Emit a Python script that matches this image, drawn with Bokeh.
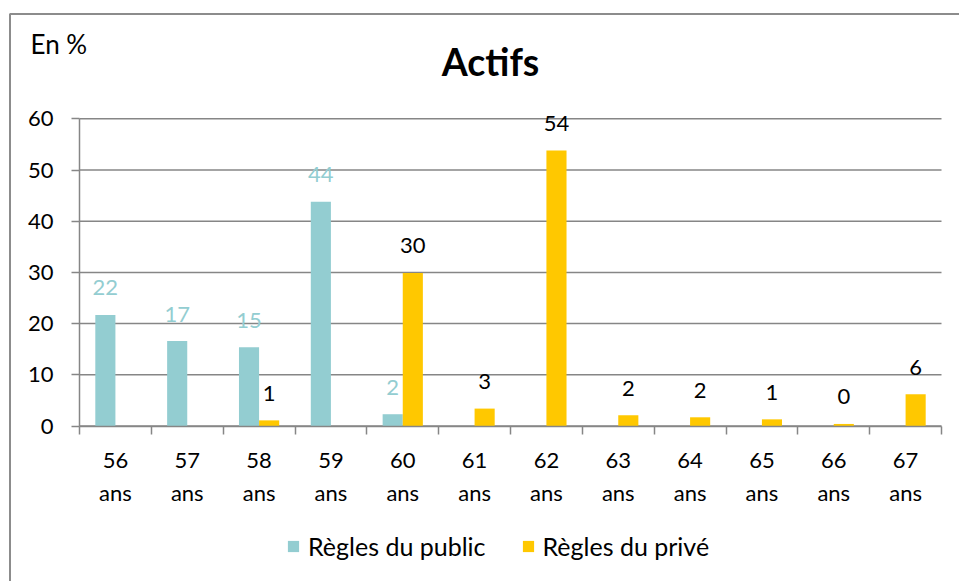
from bokeh.plotting import figure
from bokeh.models import (ColumnDataSource, FixedTicker, Label, LabelSet, Legend,
                          LegendItem, Range1d, BoxAnnotation)
from bokeh.core.properties import value
from bokeh.embed import file_html
from bokeh.resources import INLINE

# ---- data ----
ages = ["56", "57", "58", "59", "60", "61", "62", "63", "64", "65", "66", "67"]
public = [21.7, 16.6, 15.4, 43.8, 2.3, None, None, None, None, None, None, None]
prive = [None, None, 1.1, None, 29.9, 3.4, 53.8, 2.1, 1.7, 1.3, 0.4, 6.2]
y_ticks = [0, 10, 20, 30, 40, 50, 60]
series_names = ["Règles du public", "Règles du privé"]
title_text = "Actifs"
unit_text = "En %"

# ---- style / layout constants ----
TEAL = "#93CDD1"
GOLD = "#FFC800"
GRAY = "#868686"
FONT = "Lato"
BW = 0.28
W, H = 959, 581
N = len(ages)
PX_LEFT, PX_RIGHT = 79.0, 941.0      # pixel x of category band edges
PY_ZERO, PY_TOP = 425.5, 118.3        # pixel y of value 0 and 60
UX = (PX_RIGHT - PX_LEFT) / N
UY = (PY_ZERO - PY_TOP) / 60.0

def x_of(px):
    return -0.5 + (px - PX_LEFT) / UX

def y_of(py):
    return (PY_ZERO - py) / UY

def build(vals, shift):
    xs, ys, labs = [], [], []
    for i, v in enumerate(vals):
        if v is None:
            continue
        xs.append(i + shift)
        ys.append(v)
        labs.append(str(int(round(v))))
    return ColumnDataSource(dict(x=xs, y=ys, lab=labs))

src_pub = build(public, -BW / 2)
src_pri = build(prive, BW / 2)

p = figure(width=W, height=H, output_backend="svg", toolbar_location=None,
           x_range=Range1d(x_of(0), x_of(W)), y_range=Range1d(y_of(H), y_of(0)),
           min_border_left=0, min_border_right=0, min_border_top=0,
           min_border_bottom=0)
p.outline_line_color = None
p.background_fill_color = "white"
p.border_fill_color = "white"
p.xgrid.visible = False
p.ygrid.visible = False

# horizontal gridlines, spanning the category band only
p.segment(x0=[-0.5] * len(y_ticks), x1=[N - 0.5] * len(y_ticks), y0=y_ticks, y1=y_ticks,
          line_color=GRAY, line_width=1.5)

r_pub = p.vbar(x="x", top="y", width=BW, source=src_pub, fill_color=TEAL, line_color=None)
r_pri = p.vbar(x="x", top="y", width=BW, source=src_pri, fill_color=GOLD, line_color=None)

for src, col in ((src_pub, TEAL), (src_pri, "black")):
    p.add_layout(LabelSet(x="x", y="y", text="lab", source=src, y_offset=27,
                          text_align="center", text_baseline="middle",
                          text_font=value(FONT), text_font_size=value("22px"),
                          text_color=value(col)))

# x axis at value 0
xa = p.xaxis[0]
xa.fixed_location = 0
xa.bounds = (-0.5, N - 0.5)
xa.ticker = FixedTicker(ticks=list(range(N)), minor_ticks=[i - 0.5 for i in range(N + 1)])
xa.major_label_overrides = {i: f"{a}\nans" for i, a in enumerate(ages)}
xa.major_tick_out = 0
xa.major_tick_in = 0
xa.minor_tick_out = 8
xa.minor_tick_in = 0
xa.minor_tick_line_color = GRAY
xa.minor_tick_line_width = 1.5
xa.axis_line_color = GRAY
xa.axis_line_width = 1.5
xa.major_label_text_font = FONT
xa.major_label_text_font_size = "22px"
xa.major_label_text_color = "black"
xa.major_label_text_line_height = 1.24
xa.major_label_standoff = 12

# y axis at the left edge of the category band
ya = p.yaxis[0]
ya.fixed_location = -0.5
ya.bounds = (0, 60)
ya.ticker = FixedTicker(ticks=y_ticks)
ya.major_tick_out = 8
ya.major_tick_in = 0
ya.minor_tick_out = 0
ya.minor_tick_in = 0
ya.major_tick_line_color = GRAY
ya.major_tick_line_width = 1.5
ya.axis_line_color = GRAY
ya.axis_line_width = 1.5
ya.major_label_text_font = FONT
ya.major_label_text_font_size = "22px"
ya.major_label_text_color = "black"
ya.major_label_standoff = 18

# chart border
p.add_layout(BoxAnnotation(left=x_of(9.5), right=x_of(W + 20), top=y_of(13.5),
                           bottom=y_of(H + 20), fill_color=None, fill_alpha=0,
                           line_color="#8c8c8c", line_alpha=1.0, line_width=2))

# titles
p.add_layout(Label(x=x_of(30), y=y_of(43), text=unit_text, text_color="black",
                   text_font=FONT, text_font_size="26px", text_baseline="middle"))
p.add_layout(Label(x=x_of(490), y=y_of(61), text=title_text, text_color="black",
                   text_font=FONT, text_font_size="37.5px", text_font_style="bold",
                   text_align="center", text_baseline="middle"))

legend = Legend(items=[LegendItem(label=series_names[0], renderers=[r_pub]),
                       LegendItem(label=series_names[1], renderers=[r_pri])],
                orientation="horizontal", location=(286, 20),
                glyph_width=14, glyph_height=14, spacing=35, padding=0, margin=0,
                label_standoff=8, label_text_color="black",
                label_text_font=FONT, label_text_font_size="25px",
                border_line_color=None, background_fill_alpha=0)
p.add_layout(legend)

open("out.html", "w").write(file_html(p, INLINE))
